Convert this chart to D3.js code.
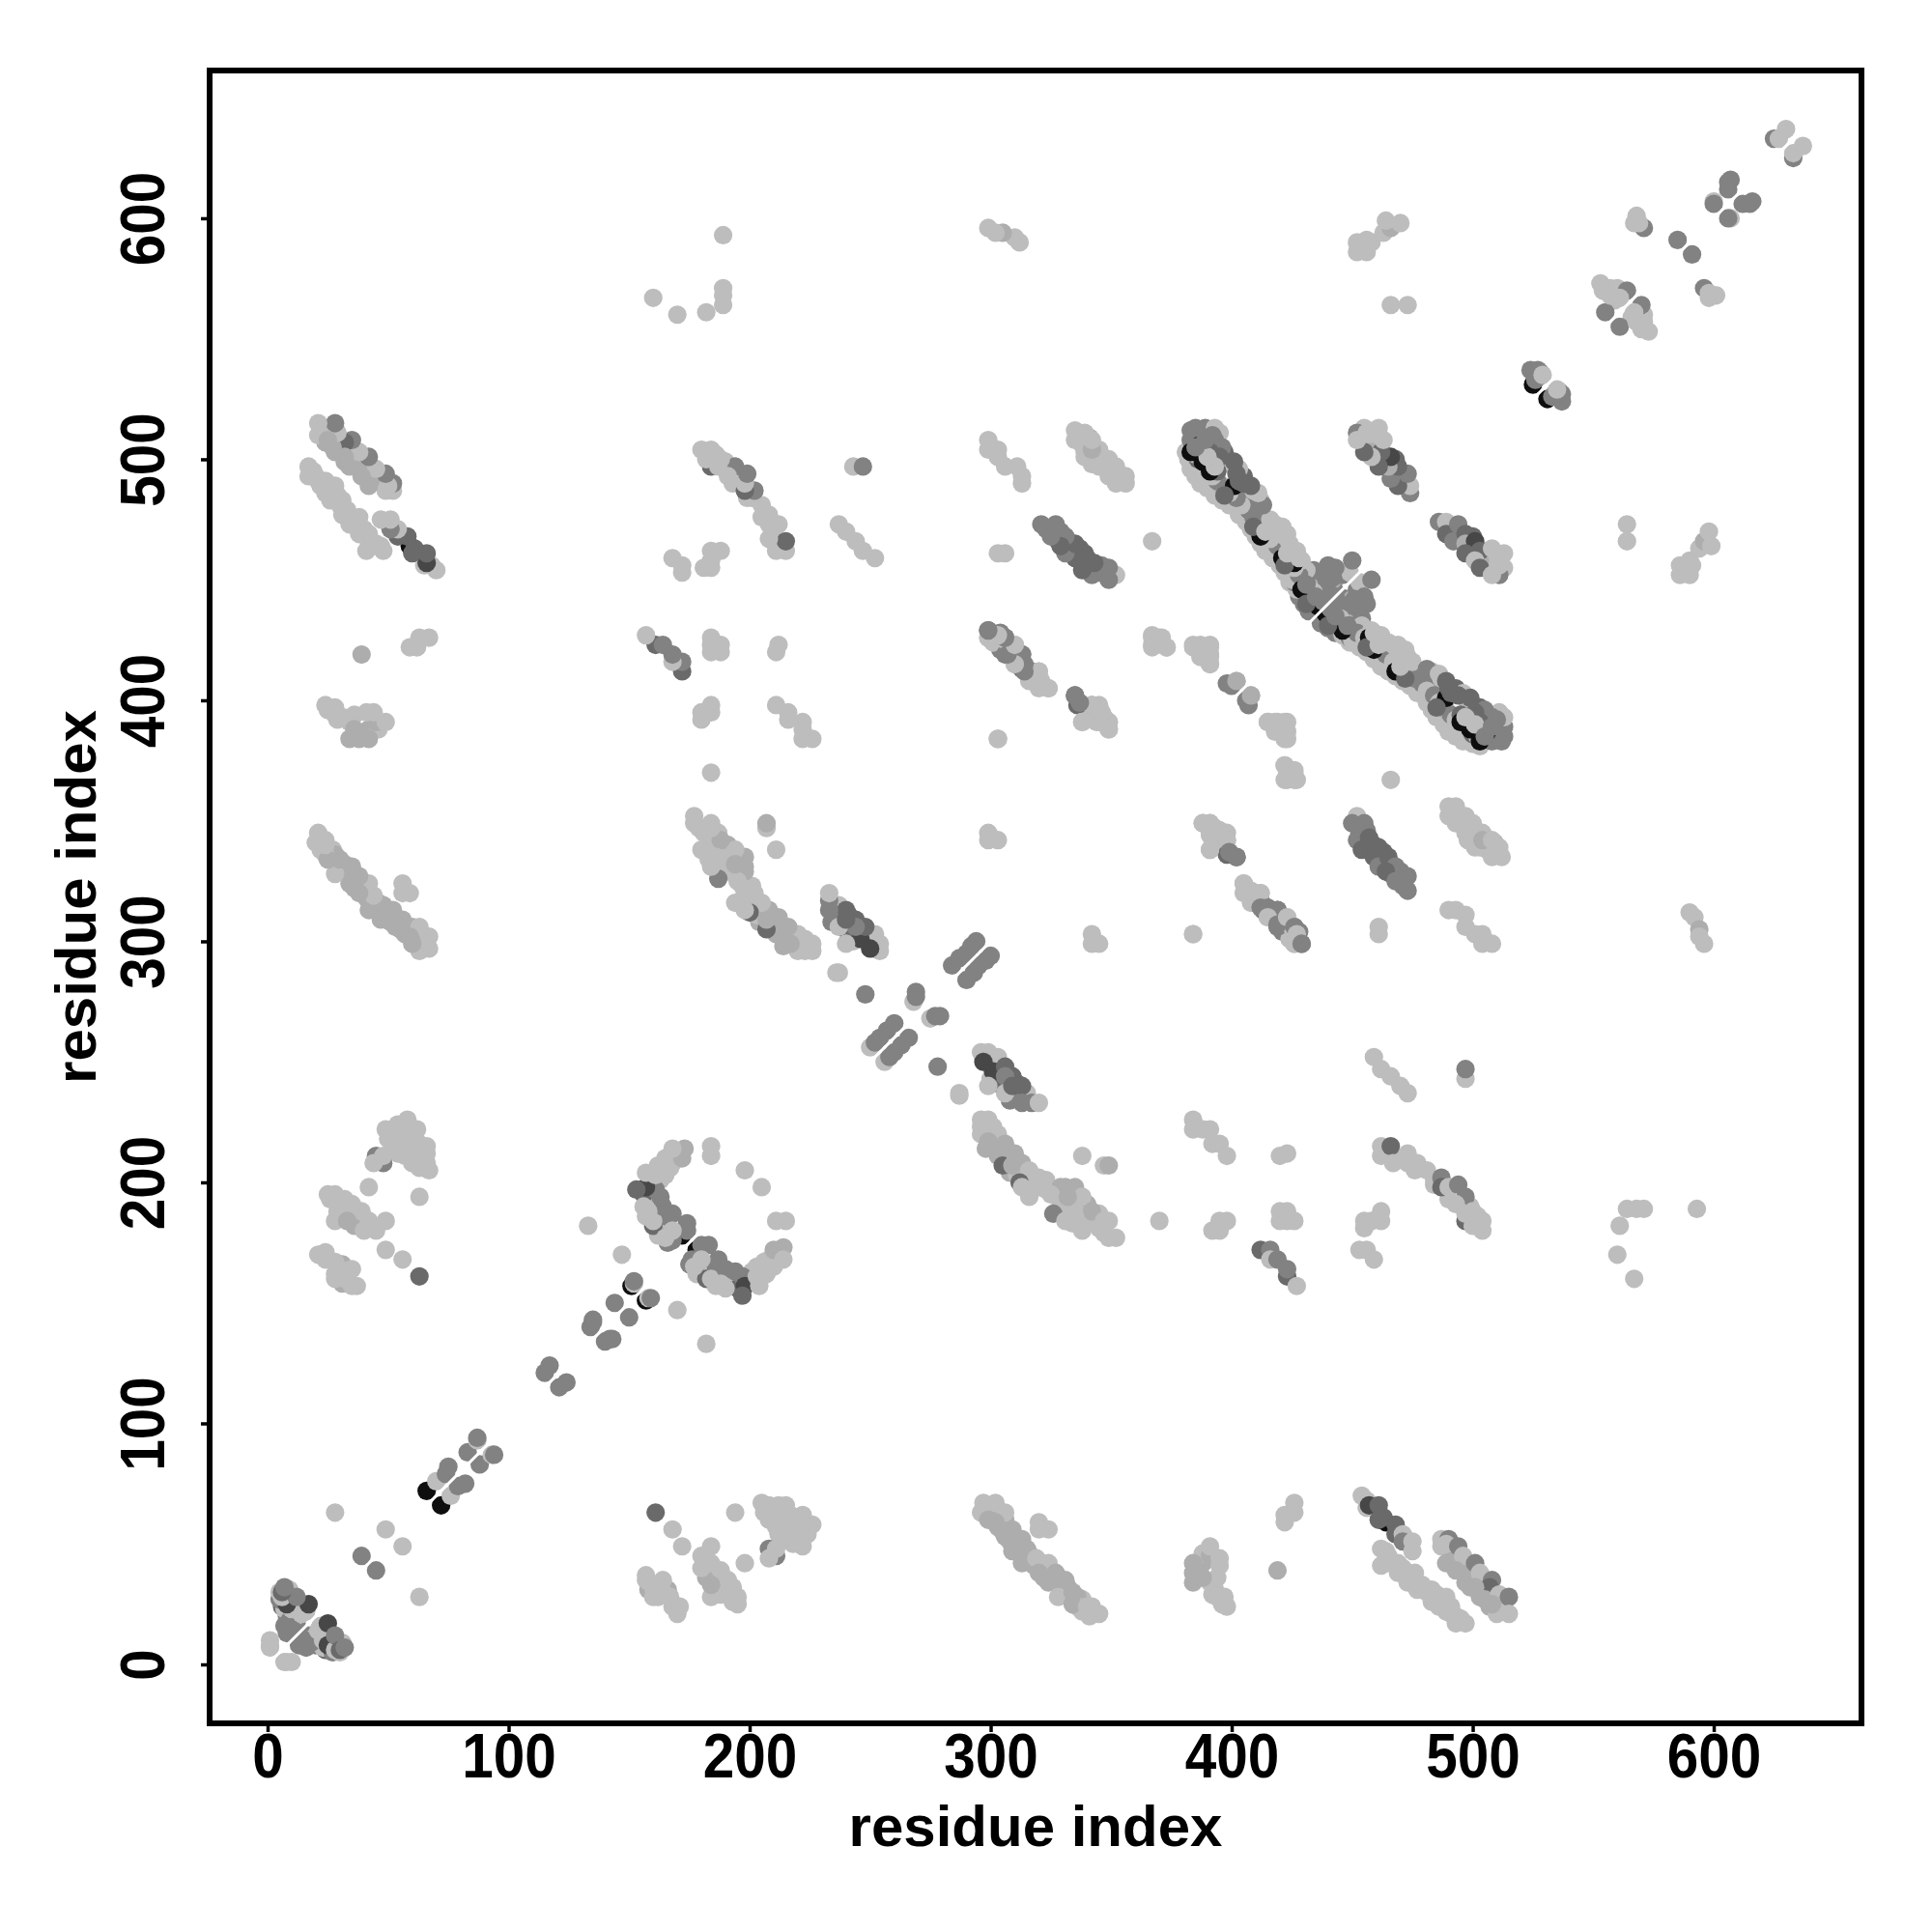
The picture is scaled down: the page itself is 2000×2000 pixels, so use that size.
<!DOCTYPE html>
<html><head><meta charset="utf-8"><title>Residue contact map</title>
<script src="https://cdn.jsdelivr.net/npm/d3@7"></script>
<style>html,body{margin:0;padding:0;background:#fff}svg{display:block}</style>
</head><body><svg id="chart" width="2000" height="2000"></svg>
<script>
// Each contact: [residue index (larger), residue index (smaller), contact level]
const denseFill = [
[300,64,1],[303,62,1],[306,60,1],[303,57,1],[306,53,1],[310,50,1],[311,47,1],[316,46,1],[314,44,1],[318,41,1],[322,38,1],[326,35,1],[322,36,1],[329,32,1],[332,32,1],[335,27,1],[338,27,0],[332,29,1],[342,24,0],[338,22,0],
[464,47,0],[466,42,0],[471,40,0],[474,37,0],[476,35,0],[479,33,0],[481,30,0],[485,29,0],[486,27,0],[488,25,0],[491,24,0],[491,21,0],[495,19,0],
[492,46,1],[492,43,1],[495,42,1],[496,38,1],[499,36,1],[499,32,1],[503,31,1],[503,28,1],[506,30,1],[509,27,0],[513,25,0],[512,22,0],[507,24,1],[510,29,1],
[298,222,0],[301,223,0],[301,218,1],[304,213,1],[307,210,1],[311,208,1],[303,211,1],[308,204,1],[314,204,0],[311,203,0],[318,200,0],[320,198,0],[317,197,0],[323,197,0],[327,196,0],[331,198,1],[329,191,0],[333,190,0],[337,190,0],[340,191,1],[336,187,0],[340,185,0],[343,184,0],[345,187,0],[334,183,0],[345,181,0],[347,179,0],
[175,166,2],[178,168,0],[182,165,0],[178,162,0],[181,166,1],[185,163,0],[187,160,0],[190,160,0],[192,157,0],[186,165,2],[188,163,2],[194,158,0],[195,156,3],[199,159,0],[201,163,0],[203,165,0],[208,168,0],[212,170,0],
[13,8,2],[17,12,2],[19,11,0],[20,8,2],[22,12,0],[24,14,0],[26,9,0],[24,6,3],[29,8,3],[31,9,0],[23,7,0],
[456,346,2],[453,345,2],[455,340,3],[458,337,3],[462,334,3],[463,337,3],[466,332,3],[466,328,2],[470,329,2],[470,325,2],[471,323,2],
[493,353,0],[493,349,0],[498,347,0],[501,346,1],[505,340,0],[506,338,0],[510,336,0],[509,341,1],[498,342,0],[501,339,0],
[491,471,2],[492,469,3],[495,467,3],[500,463,3],[498,463,2],[505,459,3],[506,456,0],[506,462,1],[509,458,0],[503,458,1],[513,461,0],[513,455,0],[510,453,2],[500,468,3],
[300,252,0],[303,249,3],[300,243,0],[303,241,0],[303,245,4],[305,240,3],[309,244,3],[311,236,2],[308,234,2],[311,241,3],[315,237,0],
[303,424,2],[304,421,2],[309,420,3],[310,417,3],[311,415,3],[304,425,0],[317,412,2],[316,408,0],
[345,398,0],[347,393,0],[341,393,0],[342,395,1],
[414,312,2],[417,310,2],[421,310,2],[421,306,2],[424,304,0],[424,301,0],[428,304,2],
[182,36,1],[186,36,1],[186,32,1],[189,32,1],[182,43,1],[193,32,0],[193,26,0],[158,31,1],[162,33,1],[162,28,0],[166,31,1],
[210,63,0],[213,62,0],[217,62,0],[219,55,0],[224,54,0],[212,54,0],[218,50,0],[206,63,0],
[571,557,0],[571,560,0],[566,559,0],
[394,341,0],[396,344,0],[393,347,0],
[388,42,1],[388,46,0],[391,45,1],[386,38,1],[394,36,0],[393,31,0],[396,25,0],
[470,210,0],[476,205,0],[484,199,0],[499,190,0],[502,186,0],[496,191,0],[490,193,0]
];
const nearDiagonal = [
[7,1,0],[8,1,0],[10,1,0],[15,10,2],[18,9,2],[14,11,2],[16,7,2],[21,14,0],[23,10,0],[25,12,0],[22,16,0],[27,5,2],[25,8,4],[28,6,0],[30,5,0],[25,17,4],[28,12,2],[30,6,3],[32,7,2],
[56,49,0],[45,39,2],[63,28,0],[72,66,5],[76,70,0],[79,74,2],[82,75,2],[88,83,2],[93,87,0],[94,87,2],
[121,115,2],[124,117,2],[140,134,2],[142,135,2],[143,135,2],[150,144,2],[157,151,5],[158,152,0],[159,152,2],[170,147,0],[182,133,0],
[176,168,2],[178,172,5],[180,174,2],[183,174,2],[187,168,2],[182,160,3],[177,165,0],[180,168,0],[184,160,0],[190,164,2],[194,163,2],[197,161,2],[198,157,4],[197,153,3],[192,160,5],[188,158,0],[186,157,0],[190,156,0],
[203,161,0],[204,157,0],[207,162,0],[206,167,0],[210,165,0],[210,172,1],[214,173,1],[214,168,0],[211,184,0],[215,184,0],[205,198,0],
[248,278,2],[236,287,0],[256,250,0],[258,252,2],[260,254,2],[263,257,2],[266,260,2],[275,268,0],[277,269,2],[279,269,2],[290,284,2],[293,287,2],[295,290,2],[298,292,2],[300,294,2],
[531,525,5],[533,526,2],[534,527,2],[537,524,2],[537,527,2],[536,528,2],[535,529,0],
[561,555,2],[570,564,2],[573,553,0],[570,554,0],[568,557,0],[567,561,0],
[596,571,2],[601,568,0],[598,567,0],[598,569,0],[591,585,2],[607,600,0],[606,600,2],[612,606,2],[615,606,2],[616,607,2],[633,625,2],[633,627,0],[637,630,0]
];
const lowerLeftBlocks = [
[161,63,3],[168,56,0],[172,49,0],[194,63,0],[198,42,0],
[205,67,0],[208,66,0],[212,66,0],[215,66,0],[208,60,0],[211,57,0],[215,59,0],[218,58,0],[222,62,0],[226,58,0],[222,58,0],[222,49,0],[215,52,0],[222,53,0],[208,48,2],[211,45,2],[208,44,0],[211,48,0],
[157,37,0],[157,35,0],[160,32,0],[164,35,0],[160,28,0],[164,30,0],[167,28,0],[168,24,0],[171,24,0],[170,21,0],
[184,49,0],[180,45,0],[180,40,0],[184,42,0],[188,39,0],[191,35,0],[184,28,0],[188,29,0],[192,29,0],[195,28,0],[195,25,0],[184,33,1],
[297,67,0],[302,67,0],[296,63,0],[306,63,0],[299,60,1],[302,59,1],[309,56,1],[305,55,1],[308,51,1],[313,52,1],[315,48,1],[309,47,1],[313,42,1],[319,44,0],[324,42,0],[320,38,1],[327,38,1],[324,34,1],[331,35,1],[328,28,0],[336,28,1],[334,30,1],[336,24,0],[341,20,0],[345,21,0],[334,25,1],[340,24,0],[320,59,0],[324,56,0],[320,56,0],
[391,49,0],[395,44,0],[395,41,0],[384,42,1],[384,38,1],[384,34,1],[391,34,0],[388,36,1],[392,29,0],[397,28,0],[398,24,0],[394,28,0],
[426,67,0],[422,62,0],[426,63,0],[422,59,0],[419,39,1],
[454,70,0],[456,68,0],[456,65,0],[457,66,4],[461,66,3],[463,61,3],[461,60,3],[464,59,5],[468,58,3],[468,54,3],[471,54,0],[471,51,2],[475,51,0],[475,47,0],
[462,48,0],[462,41,0],[465,45,0],[469,42,0],[469,38,0],[476,38,0],[473,34,0],[477,31,0],[483,31,0],[483,26,0],[489,28,0],[489,22,0],[493,20,0],[493,17,0],[497,17,0],[486,24,0],
[487,52,0],[487,49,0],[490,52,2],[489,50,0],[494,49,2],[489,42,1],[496,45,0],[501,42,2],[493,39,1],[497,34,1],[503,38,0],[508,35,2],[507,32,3],[501,32,1],[505,27,1],[511,29,0],[515,28,2],[510,21,0],[515,21,0],[508,25,1]
];
const middleBlocks = [
[296,254,0],[299,254,0],[297,251,0],[303,252,0],[297,250,4],[301,246,4],[306,248,3],[306,244,2],[299,240,0],[306,237,0],[309,240,3],[313,240,3],[313,233,2],[317,233,2],[320,233,0],[287,237,0],
[296,226,0],[299,226,0],[296,223,0],[296,220,0],[303,220,0],[299,217,1],[298,214,1],[306,216,1],[305,207,3],[310,212,1],[309,207,1],[313,208,1],[316,205,0],[312,200,3],[313,198,0],[316,194,0],[323,201,0],[320,202,0],[329,198,1],[335,198,1],[325,195,0],[338,194,0],[332,194,1],[342,188,1],[326,187,2],[331,184,0],[338,180,0],[335,186,0],[347,184,0],[349,184,0],[349,177,0],[352,177,0],[338,211,0],[347,207,0],[349,207,1],
[370,184,0],[384,226,0],[384,222,0],[388,222,0],[391,222,0],[392,216,0],[395,216,0],[398,211,0],[392,180,0],[395,180,0],[395,184,0],[398,184,0],[420,211,0],[423,212,0],[420,188,0],[423,188,0],[420,184,0],[423,184,0],[426,184,0],
[412,172,3],[416,172,2],[416,168,0],[419,168,2],[423,161,3],[423,164,2],[427,157,0],
[459,252,0],[462,247,0],[466,244,0],[470,240,0],[473,237,0],[497,243,0],[497,247,2],
[462,215,0],[462,211,0],[466,215,3],[467,208,0],[473,212,0],[473,208,0],[477,208,0],[481,205,0],[484,201,0],[487,202,2],[487,198,3],[490,198,0],[494,199,2],[497,194,2],[493,191,0],[497,184,3],[500,188,0],[497,187,0],[504,184,0],[504,180,0],[500,182,0],
[455,184,0],[455,181,0],[462,188,0],[462,184,0],[458,184,0],[453,172,0],[456,172,0],[459,168,0],
[299,429,3],[299,426,0],[302,427,1],[306,426,2],[306,419,2],[307,424,0],[310,423,0],[313,419,3],[310,415,0],[313,413,3],[315,413,2],[320,412,0],[320,405,0],[324,405,0],
[335,402,3],[336,398,3],[342,398,1],[338,391,0],[346,395,0],[349,391,0],[349,388,0],[344,391,0],[303,384,0],[342,303,0],[342,299,0],[345,299,0],
[367,427,0],[367,423,0],[370,426,0],[373,422,0],[384,423,0],[387,423,0],[391,423,0],[387,420,0],[391,419,0],[391,415,0],
[398,407,2],[402,408,1],[406,400,2],[408,402,1],[415,391,0],[418,391,0],[422,391,0],[418,387,0],[422,388,0],[422,384,0],[422,373,0],[422,367,0],[426,371,0],[426,367,0],[423,369,0],[466,367,0]
];
const mainStrandBase = [
[437,432,2],[443,437,2],[445,443,2],[448,442,2],[450,442,1],[452,446,2],[453,449,0],[456,440,2],[458,450,2],
[442,439,2],[444,441,2],[446,438,2],[449,437,2],[451,435,2],[453,438,2],[455,443,2],[451,442,2],[448,432,1],[445,434,0],[442,434,2],[454,434,2],
[440,430,2],[443,428,2],[446,427,0],[449,424,0],
[438,432,2],[449,431,2],[449,426,2],[454,431,0],[462,427,0],[461,418,2],[466,417,0],[469,423,0],[473,418,0],[478,412,2],[483,412,0],[476,405,0],[484,407,2],[487,409,0],[498,399,0],[489,391,0],[493,387,0],[485,394,0],[496,384,0],[503,381,0],[508,383,2],[512,383,2],[510,385,2],[512,387,2],[511,395,0],[511,391,0],
[450,425,0],[453,422,0],[456,420,0],[459,417,0],[462,414,0],[465,412,0],[468,410,0],[471,408,0],[474,406,0],[477,403,0],[481,399,0],[483,396,0],[485,393,0],[488,390,0],[490,387,0],[493,385,0],[496,383,0],[500,382,0],
[452,428,2],[455,426,0],[458,424,1],[461,421,0],[464,419,2],[467,416,0],[470,414,0],[473,411,0],[476,409,2],[479,407,2],[481,404,0],[484,402,2],[486,399,0],[489,396,1],[491,394,2],[493,392,0],[495,394,3],[497,389,0],[500,386,3],[502,385,0],[505,384,2],[507,389,2],[509,387,2],[511,385,2],[513,385,2],[513,389,2],[513,393,0],
[458,429,0],[465,424,0],[468,422,0],[472,421,0],[475,416,0],[481,413,2],[486,411,0],[489,408,3],[493,405,3],[496,403,0],[499,401,3],[503,397,3],[505,396,2],[508,393,2],[510,392,2]
];
const mainStrandDark = [
[439,436,5],[441,433,5],[446,429,5],[457,426,5],[459,421,5],[468,412,5],[489,401,5],[495,391,5],[499,388,5],[503,383,5],[506,387,5],
[456,422,3],[472,409,3],[490,405,3],[485,397,3],[494,402,3],[501,395,3],[503,391,3],[440,431,3]
];
const mainStrandTop = [
[441,438,2],[443,435,2],[448,431,2],[459,428,0],[461,423,0],[470,414,0],[491,403,3],[497,393,0],[501,390,0],[505,385,2],[508,389,2]
];
const upperBlocks = [
[452,352,0],[450,349,2],[455,349,2],[452,342,2],[457,343,3],[454,338,3],[459,340,3],[461,339,3],[459,335,3],[461,331,2],[465,335,3],[468,331,2],[464,329,3],[468,325,2],[473,327,2],[473,321,2],
[490,356,0],[493,356,0],[490,352,0],[497,352,0],[495,349,0],[500,349,0],[497,345,0],[500,343,0],[504,345,0],[503,339,0],[504,342,1],[508,342,0],[508,335,0],[511,339,0],[512,335,0],
[388,349,0],[391,349,0],[391,345,0],[395,346,0],[398,342,0],[391,338,0],[399,337,2],[402,335,2],
[405,324,0],[408,321,0],[412,320,0],[412,314,2],[415,314,2],[419,313,2],[415,310,0],[419,307,2],[423,310,0],[426,306,2],[427,303,0],[426,299,0],[429,299,2],
[384,303,0],[461,306,0],[461,303,0],[490,313,0],[493,313,0],[497,311,0],[497,306,0],[501,303,0],[504,303,0],[504,299,0],[508,299,0],
[486,474,2],[489,474,0],[489,469,3],[494,473,2],[492,466,2],[497,469,3],[497,465,1],[501,466,4],[497,461,3],[503,462,3],[501,458,0],[508,463,0],[503,455,3],[511,459,0],[511,452,2],[508,452,0],[511,456,0],
[564,466,0],[564,473,0],[586,452,0],[586,456,0],[590,452,0],[590,458,0],[591,456,0],[594,463,0],[596,466,1],[599,464,0],[598,470,0],
[590,312,0],[592,310,0],[594,305,1],[594,302,0],[596,299,0],
[564,189,0],[568,189,0],[571,189,0],[593,189,0],[561,182,0],[560,170,0],[567,160,0]
];
const xTickValues = [0,100,200,300,400,500,600];
const yTickValues = [0,100,200,300,400,500,600];
const axisTitle = "residue index";
const diagonalEnds = [0,640];
const levelGreys = ["#bdbdbd","#adadad","#828282","#6a6a6a","#474747","#0e0e0e"];

const svg = d3.select("#chart");
const box = {left:217,right:1927,top:73,bottom:1784};
const x = d3.scaleLinear().domain([-24.05,661.3]).range([box.left,box.right]);
const y = d3.scaleLinear().domain([-24.45,661.3]).range([box.bottom,box.top]);
const FONT = '"Liberation Sans", Arial, Helvetica, sans-serif';

const others = [...denseFill,...lowerLeftBlocks,...middleBlocks,...upperBlocks,...nearDiagonal];
// Blackest contacts of the blocks sit underneath; the main strand is layered base, dark, top.
const ordered = [...others.filter(d=>d[2]===5),...others.filter(d=>d[2]!==5),...mainStrandBase,...mainStrandDark,...mainStrandTop];
const marks = ordered.flatMap(d => [{a:d[0],b:d[1],l:d[2]},{a:d[1],b:d[0],l:d[2]}]);

svg.append("g").selectAll("circle").data(marks).join("circle")
  .attr("cx",d=>x(d.a)).attr("cy",d=>y(d.b)).attr("r",9.6).attr("fill",d=>levelGreys[d.l]);

svg.append("line")
  .attr("x1",x(diagonalEnds[0])).attr("y1",y(diagonalEnds[0]))
  .attr("x2",x(diagonalEnds[1])).attr("y2",y(diagonalEnds[1]))
  .attr("stroke","#fff").attr("stroke-width",3);

const narrow = function(d){ return String(d).length*32.5; };
const gx = svg.append("g").attr("transform",`translate(0,${box.bottom})`)
  .call(d3.axisBottom(x).tickValues(xTickValues).tickSize(9).tickSizeOuter(0));
gx.select(".domain").remove();
gx.selectAll("line").attr("stroke","#000").attr("stroke-width",3.5);
gx.selectAll("text").attr("y",56).attr("dy",0).attr("fill","#000")
  .attr("font-family",FONT).attr("font-weight","bold").attr("font-size",65)
  .attr("textLength",narrow).attr("lengthAdjust","spacingAndGlyphs");

const gy = svg.append("g").attr("transform",`translate(${box.left},0)`)
  .call(d3.axisLeft(y).tickValues(yTickValues).tickSize(9).tickSizeOuter(0));
gy.select(".domain").remove();
gy.selectAll("line").attr("stroke","#000").attr("stroke-width",3.5);
gy.selectAll("text").attr("x",0).attr("y",0).attr("dy",0).attr("fill","#000")
  .attr("text-anchor","middle").attr("transform","translate(-47,0) rotate(-90)")
  .attr("font-family",FONT).attr("font-weight","bold").attr("font-size",65)
  .attr("textLength",narrow).attr("lengthAdjust","spacingAndGlyphs");

svg.append("rect").attr("x",box.left).attr("y",box.top)
  .attr("width",box.right-box.left).attr("height",box.bottom-box.top)
  .attr("fill","none").attr("stroke","#000").attr("stroke-width",6);

svg.append("text").attr("x",(box.left+box.right)/2).attr("y",1911).attr("text-anchor","middle")
  .attr("font-family",FONT).attr("font-weight","bold").attr("font-size",60).attr("fill","#000").text(axisTitle);
svg.append("text").attr("transform",`translate(99,${(box.top+box.bottom)/2}) rotate(-90)`).attr("text-anchor","middle")
  .attr("font-family",FONT).attr("font-weight","bold").attr("font-size",60).attr("fill","#000").text(axisTitle);
</script></body></html>
